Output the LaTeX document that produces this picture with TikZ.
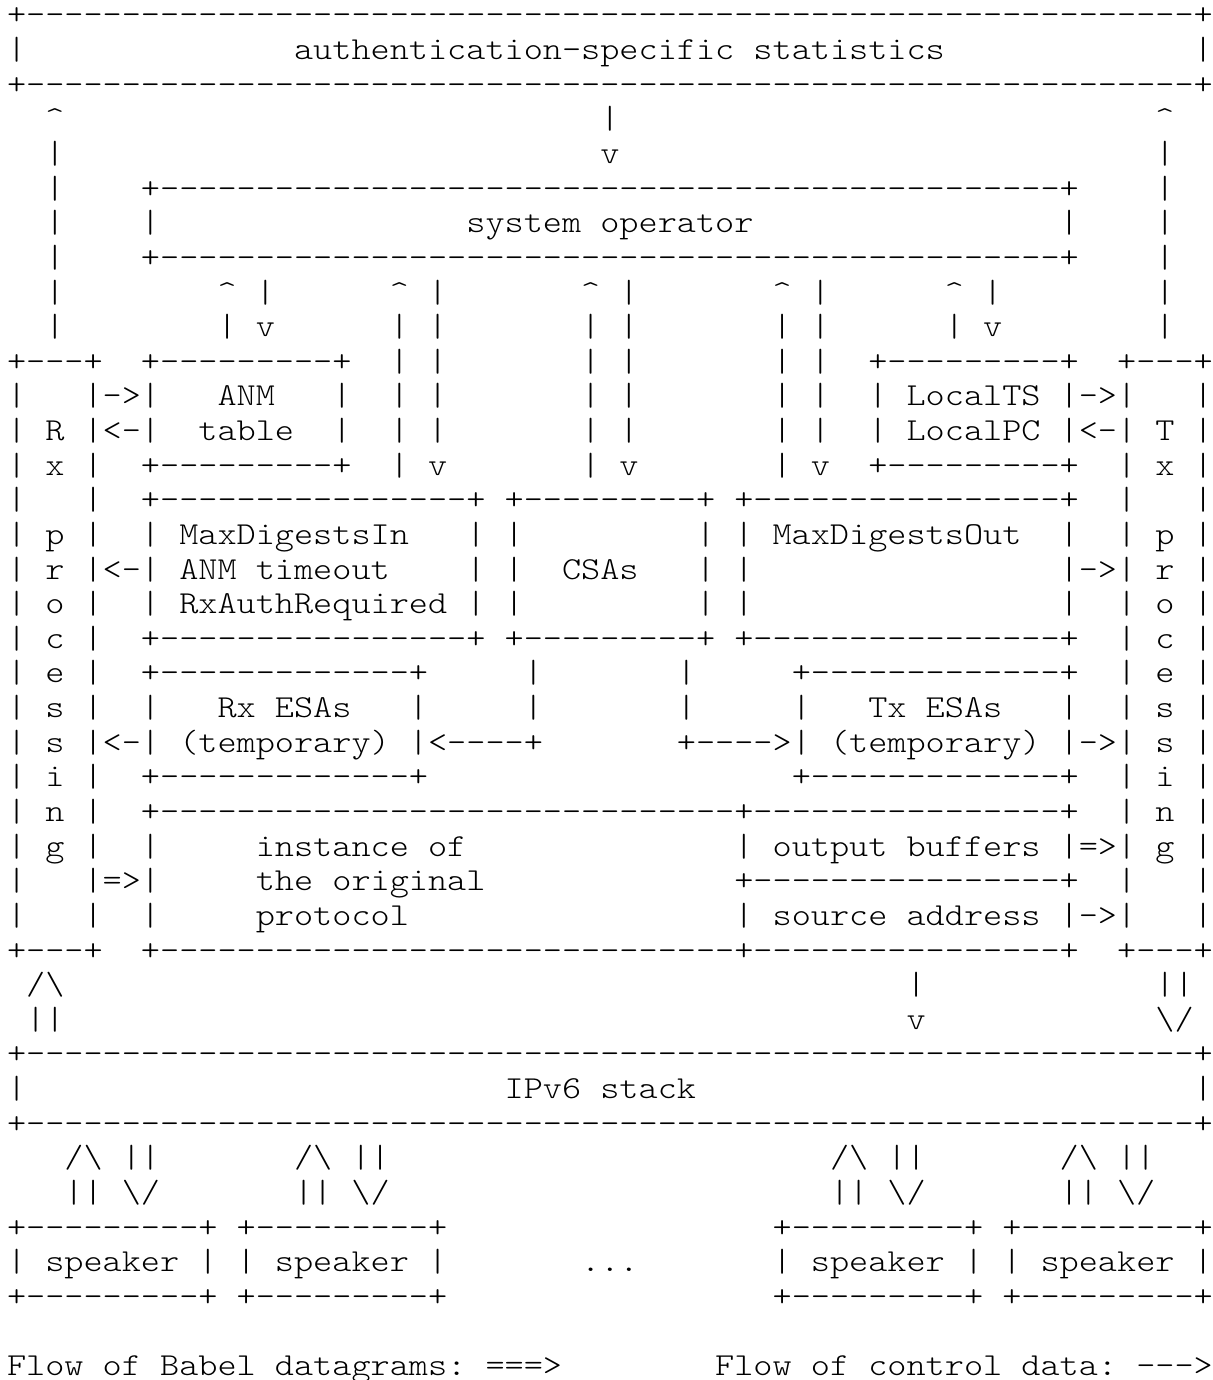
\documentclass[tikz,border=0pt]{standalone}
\usepackage{fontspec}
\newfontfamily\asciifont{lmmonolt10-regular.otf}[FakeStretch=1.1393]
\newcommand\ascrep[2]{\ifnum#1>0 #2\expandafter\ascrep\expandafter{\the\numexpr#1-1\relax}{#2}\fi}
\newcommand\blk[1]{\hspace*{#1\fontcharwd\font`x}}
\newcommand\ascup{\textasciicircum}
\newcommand\ascbs{\textbackslash}
\tikzset{asc/.style={anchor=base west, inner sep=0pt, outer sep=0pt, font=\asciifont\fontsize{16}{17}\selectfont}}
\begin{document}
\begin{tikzpicture}[x=0.5pt,y=-0.5pt]
\fill[white] (0,0) rectangle (1213,1380);
\useasboundingbox (0,0) rectangle (1213,1380);
\node[asc] (r0) at (7,25.00) {+\ascrep{61}{-}+};
\node[asc] (r1) at (7,59.63) {|\blk{14}authentication-specific\blk{1}statistics\blk{13}|};
\node[asc] (r2) at (7,94.26) {+\ascrep{61}{-}+};
\node[asc] (r3) at (7,128.89) {\blk{2}\ascup\blk{28}|\blk{28}\ascup};
\node[asc] (r4) at (7,163.52) {\blk{2}|\blk{28}v\blk{28}|};
\node[asc] (r5) at (7,198.15) {\blk{2}|\blk{4}+\ascrep{47}{-}+\blk{4}|};
\node[asc] (r6) at (7,232.78) {\blk{2}|\blk{4}|\blk{16}system\blk{1}operator\blk{16}|\blk{4}|};
\node[asc] (r7) at (7,267.41) {\blk{2}|\blk{4}+\ascrep{47}{-}+\blk{4}|};
\node[asc] (r8) at (7,302.04) {\blk{2}|\blk{8}\ascup\blk{1}|\blk{6}\ascup\blk{1}|\blk{7}\ascup\blk{1}|\blk{7}\ascup\blk{1}|\blk{6}\ascup\blk{1}|\blk{8}|};
\node[asc] (r9) at (7,336.67) {\blk{2}|\blk{8}|\blk{1}v\blk{6}|\blk{1}|\blk{7}|\blk{1}|\blk{7}|\blk{1}|\blk{6}|\blk{1}v\blk{8}|};
\node[asc] (r10) at (7,371.30) {+\ascrep{3}{-}+\blk{2}+\ascrep{9}{-}+\blk{2}|\blk{1}|\blk{7}|\blk{1}|\blk{7}|\blk{1}|\blk{2}+\ascrep{9}{-}+\blk{2}+\ascrep{3}{-}+};
\node[asc] (r11) at (7,405.93) {|\blk{3}|->|\blk{3}ANM\blk{3}|\blk{2}|\blk{1}|\blk{7}|\blk{1}|\blk{7}|\blk{1}|\blk{2}|\blk{1}LocalTS\blk{1}|->|\blk{3}|};
\node[asc] (r12) at (7,440.56) {|\blk{1}R\blk{1}|<-|\blk{2}table\blk{2}|\blk{2}|\blk{1}|\blk{7}|\blk{1}|\blk{7}|\blk{1}|\blk{2}|\blk{1}LocalPC\blk{1}|<-|\blk{1}T\blk{1}|};
\node[asc] (r13) at (7,475.19) {|\blk{1}x\blk{1}|\blk{2}+\ascrep{9}{-}+\blk{2}|\blk{1}v\blk{7}|\blk{1}v\blk{7}|\blk{1}v\blk{2}+\ascrep{9}{-}+\blk{2}|\blk{1}x\blk{1}|};
\node[asc] (r14) at (7,509.82) {|\blk{3}|\blk{2}+\ascrep{16}{-}+\blk{1}+\ascrep{9}{-}+\blk{1}+\ascrep{16}{-}+\blk{2}|\blk{3}|};
\node[asc] (r15) at (7,544.45) {|\blk{1}p\blk{1}|\blk{2}|\blk{1}MaxDigestsIn\blk{3}|\blk{1}|\blk{9}|\blk{1}|\blk{1}MaxDigestsOut\blk{2}|\blk{2}|\blk{1}p\blk{1}|};
\node[asc] (r16) at (7,579.08) {|\blk{1}r\blk{1}|<-|\blk{1}ANM\blk{1}timeout\blk{4}|\blk{1}|\blk{2}CSAs\blk{3}|\blk{1}|\blk{16}|->|\blk{1}r\blk{1}|};
\node[asc] (r17) at (7,613.71) {|\blk{1}o\blk{1}|\blk{2}|\blk{1}RxAuthRequired\blk{1}|\blk{1}|\blk{9}|\blk{1}|\blk{16}|\blk{2}|\blk{1}o\blk{1}|};
\node[asc] (r18) at (7,648.34) {|\blk{1}c\blk{1}|\blk{2}+\ascrep{16}{-}+\blk{1}+\ascrep{9}{-}+\blk{1}+\ascrep{16}{-}+\blk{2}|\blk{1}c\blk{1}|};
\node[asc] (r19) at (7,682.97) {|\blk{1}e\blk{1}|\blk{2}+\ascrep{13}{-}+\blk{5}|\blk{7}|\blk{5}+\ascrep{13}{-}+\blk{2}|\blk{1}e\blk{1}|};
\node[asc] (r20) at (7,717.60) {|\blk{1}s\blk{1}|\blk{2}|\blk{3}Rx\blk{1}ESAs\blk{3}|\blk{5}|\blk{7}|\blk{5}|\blk{3}Tx\blk{1}ESAs\blk{3}|\blk{2}|\blk{1}s\blk{1}|};
\node[asc] (r21) at (7,752.23) {|\blk{1}s\blk{1}|<-|\blk{1}(temporary)\blk{1}|<\ascrep{4}{-}+\blk{7}+\ascrep{4}{-}>|\blk{1}(temporary)\blk{1}|->|\blk{1}s\blk{1}|};
\node[asc] (r22) at (7,786.86) {|\blk{1}i\blk{1}|\blk{2}+\ascrep{13}{-}+\blk{19}+\ascrep{13}{-}+\blk{2}|\blk{1}i\blk{1}|};
\node[asc] (r23) at (7,821.49) {|\blk{1}n\blk{1}|\blk{2}+\ascrep{30}{-}+\ascrep{16}{-}+\blk{2}|\blk{1}n\blk{1}|};
\node[asc] (r24) at (7,856.12) {|\blk{1}g\blk{1}|\blk{2}|\blk{5}instance\blk{1}of\blk{14}|\blk{1}output\blk{1}buffers\blk{1}|=>|\blk{1}g\blk{1}|};
\node[asc] (r25) at (7,890.75) {|\blk{3}|=>|\blk{5}the\blk{1}original\blk{13}+\ascrep{16}{-}+\blk{2}|\blk{3}|};
\node[asc] (r26) at (7,925.38) {|\blk{3}|\blk{2}|\blk{5}protocol\blk{17}|\blk{1}source\blk{1}address\blk{1}|->|\blk{3}|};
\node[asc] (r27) at (7,960.01) {+\ascrep{3}{-}+\blk{2}+\ascrep{30}{-}+\ascrep{16}{-}+\blk{2}+\ascrep{3}{-}+};
\node[asc] (r28) at (7,994.64) {\blk{1}/\ascbs\blk{44}|\blk{12}||};
\node[asc] (r29) at (7,1029.27) {\blk{1}||\blk{44}v\blk{12}\ascbs/};
\node[asc] (r30) at (7,1063.90) {+\ascrep{61}{-}+};
\node[asc] (r31) at (7,1098.53) {|\blk{25}IPv6\blk{1}stack\blk{26}|};
\node[asc] (r32) at (7,1133.16) {+\ascrep{61}{-}+};
\node[asc] (r33) at (7,1167.79) {\blk{3}/\ascbs\blk{1}||\blk{7}/\ascbs\blk{1}||\blk{23}/\ascbs\blk{1}||\blk{7}/\ascbs\blk{1}||};
\node[asc] (r34) at (7,1202.42) {\blk{3}||\blk{1}\ascbs/\blk{7}||\blk{1}\ascbs/\blk{23}||\blk{1}\ascbs/\blk{7}||\blk{1}\ascbs/};
\node[asc] (r35) at (7,1237.05) {+\ascrep{9}{-}+\blk{1}+\ascrep{9}{-}+\blk{17}+\ascrep{9}{-}+\blk{1}+\ascrep{9}{-}+};
\node[asc] (r36) at (7,1271.68) {|\blk{1}speaker\blk{1}|\blk{1}|\blk{1}speaker\blk{1}|\blk{7}...\blk{7}|\blk{1}speaker\blk{1}|\blk{1}|\blk{1}speaker\blk{1}|};
\node[asc] (r37) at (7,1306.31) {+\ascrep{9}{-}+\blk{1}+\ascrep{9}{-}+\blk{17}+\ascrep{9}{-}+\blk{1}+\ascrep{9}{-}+};
\node[asc] (r39) at (7,1375.57) {Flow\blk{1}of\blk{1}Babel\blk{1}datagrams:\blk{1}===>\blk{8}Flow\blk{1}of\blk{1}control\blk{1}data:\blk{1}--->};
\end{tikzpicture}
\end{document}
